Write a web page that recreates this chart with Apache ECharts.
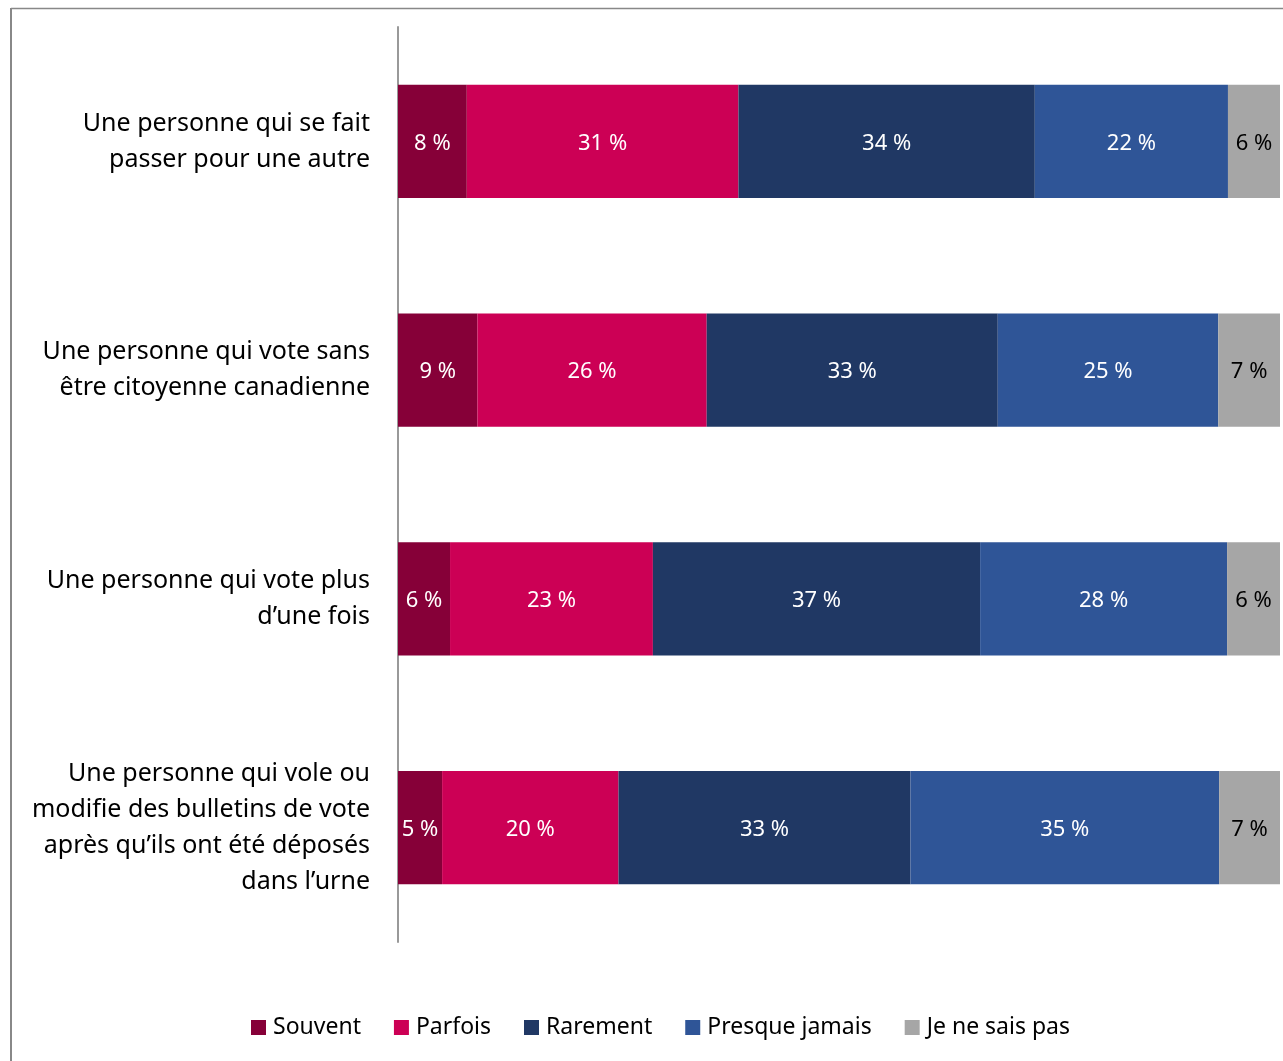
<!DOCTYPE html>
<html>
<head>
<meta charset="utf-8">
<script src="https://cdn.jsdelivr.net/npm/echarts@6/dist/echarts.min.js"></script>
<style>
html,body{margin:0;padding:0;background:#fff;}
#chart{width:1283px;height:1061px;}
</style>
</head>
<body>
<div id="chart"></div>
<script>
var categories = [
  "Une personne qui se fait\npasser pour une autre",
  "Une personne qui vote sans\nêtre citoyenne canadienne",
  "Une personne qui vote plus\nd’une fois",
  "Une personne qui vole ou\nmodifie des bulletins de vote\naprès qu’ils ont été déposés\ndans l’urne"
];
var seriesNames = ["Souvent", "Parfois", "Rarement", "Presque jamais", "Je ne sais pas"];
var souvent = [7.8, 9.0, 5.9, 5.0];
var parfois = [30.8, 26.0, 23.0, 20.0];
var rarement = [33.6, 33.0, 37.1, 33.1];
var presqueJamais = [21.9, 25.0, 28.0, 35.0];
var neSaisPas = [5.9, 7.0, 6.0, 6.9];
var colors = ["#860038", "#CC0055", "#203864", "#2F5597", "#A6A6A6"];
var labelColors = ["#ffffff", "#ffffff", "#ffffff", "#ffffff", "#000000"];

var allData = [souvent, parfois, rarement, presqueJamais, neSaisPas];
var FONT = "Noto Sans";

var series = seriesNames.map(function (name, i) {
  return {
    name: name,
    type: "bar",
    stack: "total",
    barWidth: "49.5%",
    data: allData[i],
    itemStyle: { color: colors[i] },
    label: {
      show: true,
      position: "inside",
      offset: [0, 2],
      color: labelColors[i],
      fontFamily: FONT,
      fontSize: 22,
      formatter: function (p) { return Math.round(p.value) + " %"; }
    }
  };
});

var chart = echarts.init(document.getElementById("chart"), null, { renderer: "canvas" });
chart.setOption({
  animation: false,
  backgroundColor: "#ffffff",
  textStyle: { fontFamily: FONT },
  graphic: [
    { type: "line", shape: { x1: 11, y1: 8.5, x2: 1290, y2: 8.5 }, style: { stroke: "#888888", lineWidth: 1.5 } },
    { type: "line", shape: { x1: 11, y1: 8, x2: 11, y2: 1070 }, style: { stroke: "#888888", lineWidth: 2 } }
  ],
  grid: { left: 398, right: 3, top: 27, bottom: 1061 - 942, containLabel: false },
  xAxis: {
    type: "value",
    min: 0,
    max: 100,
    show: false
  },
  yAxis: {
    type: "category",
    inverse: true,
    data: categories,
    axisLine: { show: true, lineStyle: { color: "#999999", width: 2 } },
    axisTick: { show: false },
    axisLabel: {
      margin: 28,
      color: "#000000",
      fontFamily: FONT,
      fontSize: 25,
      lineHeight: 36,
      align: "right"
    }
  },
  legend: {
    bottom: 17,
    left: 246,
    itemWidth: 15,
    itemHeight: 15,
    itemGap: 33,
    icon: "rect",
    textStyle: { fontFamily: FONT, fontSize: 23, color: "#000000", padding: [0, 0, 0, 2] },
    data: seriesNames
  },
  series: series
});
</script>
</body>
</html>
